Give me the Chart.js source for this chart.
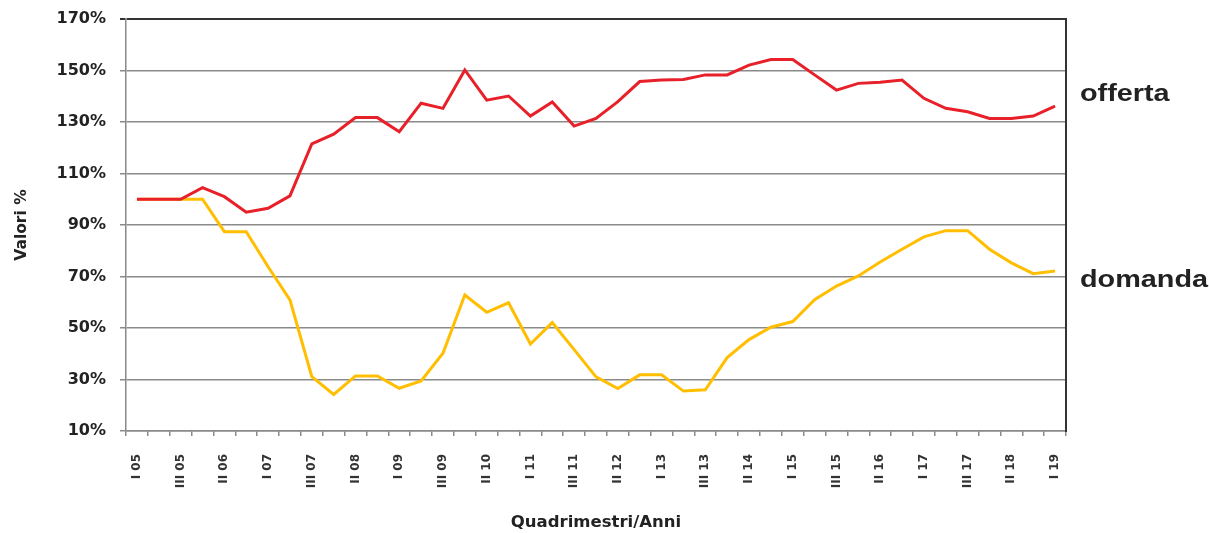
<!DOCTYPE html>
<html>
<head>
<meta charset="utf-8">
<script src="https://cdn.jsdelivr.net/npm/chart.js@4.4.0/dist/chart.umd.min.js"></script>
<style>
  body { margin: 0; background: #fff; }
  #wrap { width: 1209px; height: 533px; position: relative; }
</style>
</head>
<body>
<div id="wrap"><canvas id="chart"></canvas></div>
<script>
// Quadrimestri from I 05 to I 19
const quadrimestri = [
  'I 05', 'II 05', 'III 05', 'I 06', 'II 06', 'III 06', 'I 07', 'II 07', 'III 07',
  'I 08', 'II 08', 'III 08', 'I 09', 'II 09', 'III 09', 'I 10', 'II 10', 'III 10',
  'I 11', 'II 11', 'III 11', 'I 12', 'II 12', 'III 12', 'I 13', 'II 13', 'III 13',
  'I 14', 'II 14', 'III 14', 'I 15', 'II 15', 'III 15', 'I 16', 'II 16', 'III 16',
  'I 17', 'II 17', 'III 17', 'I 18', 'II 18', 'III 18', 'I 19'
];

const offerta = [
  100, 100, 100, 104.5, 101, 95, 96.5, 101.3, 121.5, 125.3, 131.7, 131.7, 126.2, 137.3,
  135.3, 150.2, 138.5, 140.1, 132.3, 137.8, 128.4, 131.4, 137.9, 145.7, 146.3, 146.5,
  148.3, 148.3, 152.1, 154.3, 154.3, 148.3, 142.4, 145, 145.4, 146.3, 139.2, 135.3,
  134, 131.4, 131.4, 132.3, 136.2
];

const domanda = [
  100, 100, 100, 100, 87.4, 87.4, 73.8, 60.9, 31.1, 24.2, 31.4, 31.4, 26.6, 29.4,
  40.2, 62.8, 56.1, 59.8, 43.8, 52.1, 41.6, 31, 26.5, 31.8, 31.8, 25.5, 26, 38.5,
  45.5, 50.3, 52.5, 61, 66.3, 70.2, 75.6, 80.6, 85.4, 87.8, 87.8, 80.6, 75.3, 71.1, 72.1
];

const yTicks = [10, 30, 50, 70, 90, 110, 130, 150, 170];

// names written at the right of the plot, at these heights (%)
const sideLabels = ['offerta', 'domanda'];
const sideLabelValues = [140.7, 68.6];

const sideLabelPlugin = {
  id: 'sideLabels',
  afterDraw(chart) {
    const ctx = chart.ctx;
    const y = chart.scales.y;
    ctx.save();
    ctx.fillStyle = '#222';
    ctx.font = 'bold 24px "Liberation Sans", Arial, sans-serif';
    ctx.textBaseline = 'middle';
    sideLabels.forEach(function(name, i) {
      ctx.save();
      ctx.translate(chart.chartArea.right + 14, y.getPixelForValue(sideLabelValues[i]));
      ctx.scale(1.2, 1);
      ctx.fillText(name, 0, 0);
      ctx.restore();
    });
    ctx.restore();
  }
};

const ctx = document.getElementById('chart').getContext('2d');
const chart = new Chart(ctx, {
  type: 'line',
  data: {
    labels: quadrimestri,
    datasets: [{
      label: 'offerta',
      data: offerta,
      borderColor: '#e8202a',
      borderWidth: 3,
      pointRadius: 0,
      tension: 0,
      fill: false
    }, {
      label: 'domanda',
      data: domanda,
      borderColor: '#ffbf00',
      borderWidth: 3,
      pointRadius: 0,
      tension: 0,
      fill: false
    }]
  },
  options: {
    responsive: true,
    maintainAspectRatio: false,
    animation: false,
    layout: { padding: { top: 19, left: 6, right: 143, bottom: 0 } },
    plugins: {
      legend: { display: false },
      tooltip: { enabled: false }
    },
    scales: {
      x: {
        offset: true,
        grid: {
          offset: true,
          drawOnChartArea: false,
          drawTicks: true,
          tickLength: 5,
          color: '#8a8a8a',
          lineWidth: 1.5
        },
        border: { color: '#8a8a8a', width: 1.5 },
        ticks: {
          autoSkip: false,
          minRotation: 90,
          maxRotation: 90,
          padding: 18,
          color: '#333',
          font: { family: 'DejaVu Sans', size: 12, weight: 'bold' },
          callback: function(v, i) { return i % 2 === 0 ? this.getLabelForValue(v) : ''; }
        },
        title: {
          display: true,
          text: 'Quadrimestri/Anni',
          color: '#222',
          font: { family: 'DejaVu Sans', size: 16.5, weight: 'bold' },
          padding: { top: 0, bottom: 0 }
        },
        afterFit: function(scale) { scale.height = 102; }
      },
      y: {
        min: 10,
        max: 170,
        afterBuildTicks: function(scale) {
          scale.ticks = yTicks.map(function(v) { return { value: v }; });
        },
        grid: {
          color: function(c) { return c.tick && c.tick.value === 170 ? '#333' : '#8a8a8a'; },
          lineWidth: function(c) { return c.tick && c.tick.value === 170 ? 2 : 1.5; },
          drawTicks: true,
          tickLength: 6
        },
        border: { color: '#8a8a8a', width: 1.5 },
        ticks: {
          padding: 14,
          color: '#222',
          font: { family: 'DejaVu Sans', size: 16, weight: 'bold' },
          callback: function(v) { return v + '%'; }
        },
        title: {
          display: true,
          text: 'Valori %',
          color: '#222',
          font: { family: 'DejaVu Sans', size: 15.5, weight: 'bold' },
          padding: { top: 7, bottom: 0 }
        },
        afterFit: function(scale) {
          scale.width = 120;
          scale.paddingTop = 0;
          scale.paddingBottom = 0;
        }
      },
      y2: {
        position: 'right',
        min: 10,
        max: 170,
        grid: { drawOnChartArea: false, drawTicks: false },
        border: { color: '#333', width: 2 },
        ticks: { display: false },
        afterFit: function(scale) { scale.width = 0; }
      }
    }
  },
  plugins: [sideLabelPlugin]
});
</script>
</body>
</html>
